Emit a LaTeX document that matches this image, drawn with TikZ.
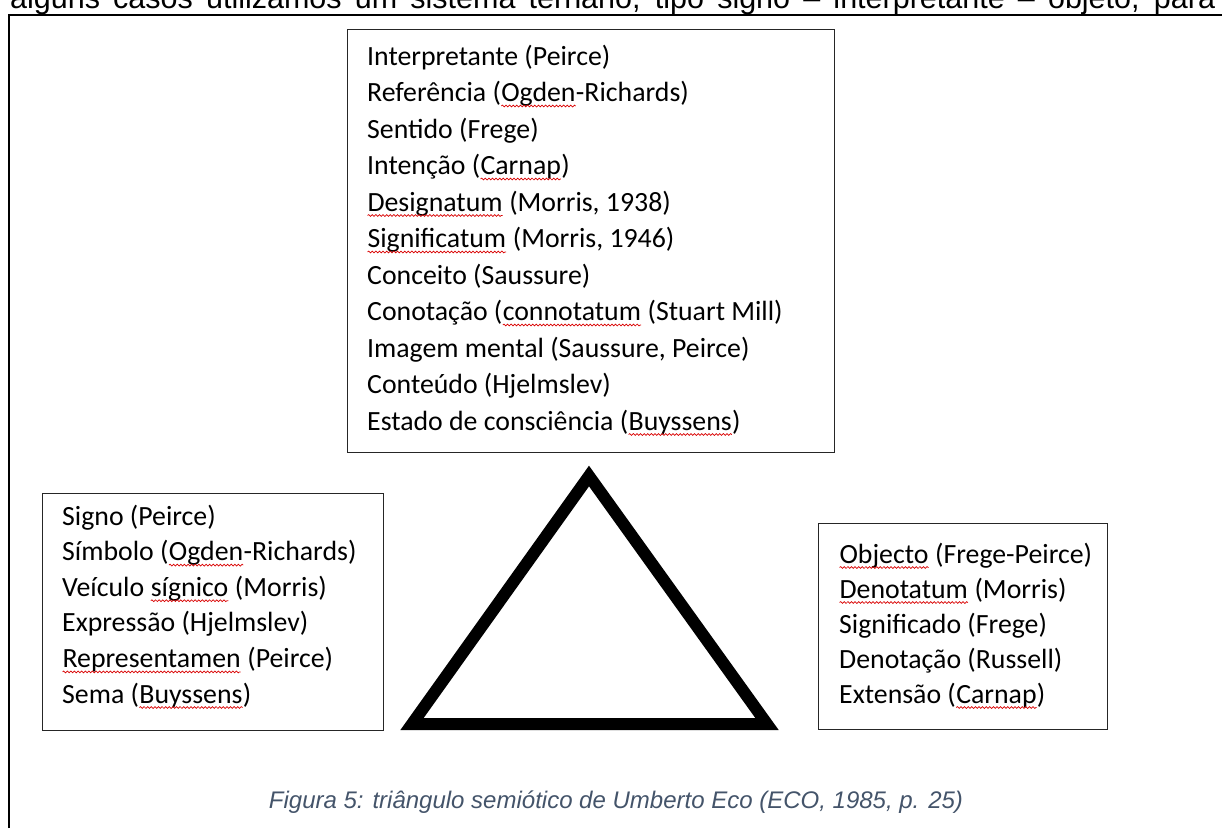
\documentclass[tikz,border=0pt]{standalone}
\usepackage{fontspec}
\setmainfont{Carlito}
\newfontfamily\arialfont{Liberation Sans}
\usetikzlibrary{decorations.pathmorphing}
\definecolor{capcol}{HTML}{44546A}
\tikzset{
  framebox/.style={draw=black!85, line width=1.3pt, inner sep=0pt, anchor=north west},
  tri/.style={draw=black, line width=12pt, line join=miter},
  outerframe/.style={draw=black, line width=2pt},
  boxtext/.style={font=\fontsize{27.8}{33}\selectfont, anchor=base west, inner sep=0pt},
  wavyline/.style={red!85!black, line width=0.7pt, decorate, decoration={snake, amplitude=0.9pt, segment length=3.6pt}},
}
\newcommand\wv[1]{\tikz[baseline=(wvn.base)]{\node[inner sep=0pt, outer sep=0pt] (wvn) {#1};\draw[wavyline] ([yshift=-4.5pt]wvn.base west) -- ([yshift=-4.5pt]wvn.base east);}}
\begin{document}
\begin{tikzpicture}[x=1pt, y=-1pt]
\useasboundingbox (0,0) rectangle (1222,828);
% cut-off text line at the top
\begin{scope}
\clip (0,0) rectangle (1222,13);
\node[anchor=base west, inner sep=0pt, font=\arialfont\fontsize{30.5}{32}\selectfont] (toptext) at (10,8)
  {\makebox[1205pt][s]{alguns casos utilizamos um sistema ternário, tipo signo – interpretante – objeto, para}};
\end{scope}
% outer frame
\coordinate (fbl) at (9,828);
\coordinate (ftl) at (9,15);
\coordinate (ftr) at (1222,15);
\draw[outerframe] (fbl) -- (ftl) -- (ftr);
% boxes
\node[framebox, minimum width=487pt, minimum height=423pt] (topbox) at (347,29) {};
\node[framebox, minimum width=341pt, minimum height=237pt] (leftbox) at (42,493) {};
\node[framebox, minimum width=289pt, minimum height=206pt] (rightbox) at (818,523) {};
% top box text
\foreach \t [count=\i from 0] in {
  {Interpretante (Peirce)},
  {Referência (\wv{Ogden}-Richards)},
  {Sentido (Frege)},
  {Intenção (\wv{Carnap})},
  {\wv{Designatum} (Morris, 1938)},
  {\wv{Significatum} (Morris, 1946)},
  {Conceito (Saussure)},
  {Conotação (\wv{connotatum} (Stuart Mill)},
  {Imagem mental (Saussure, Peirce)},
  {Conteúdo (Hjelmslev)},
  {Estado de consciência (\wv{Buyssens})}}
  \node[boxtext] (top\i) at (367,65+36.5*\i) {\t};
% left box text
\foreach \t [count=\i from 0] in {
  {Signo (Peirce)},
  {Símbolo (\wv{Ogden}-Richards)},
  {Veículo \wv{sígnico} (Morris)},
  {Expressão (Hjelmslev)},
  {\wv{Representamen} (Peirce)},
  {Sema (\wv{Buyssens})}}
  \node[boxtext] (left\i) at (62,525+35.6*\i) {\t};
% right box text
\foreach \t [count=\i from 0] in {
  {\wv{Objecto} (Frege-Peirce)},
  {\wv{Denotatum} (Morris)},
  {Significado (Frege)},
  {Denotação (Russell)},
  {Extensão (\wv{Carnap})}}
  \node[boxtext] (right\i) at (839,563+35*\i) {\t};
% triangle
\coordinate (ta) at (589,476);
\coordinate (tl) at (412,724);
\coordinate (tr) at (767,724);
\draw[tri] (tl) -- (ta) -- (tr) -- cycle;
% caption
\node[anchor=base, inner sep=0pt, text=capcol, font=\arialfont\itshape\fontsize{24}{27}\selectfont] (caption) at (616,808)
  {Figura 5: triângulo semiótico de Umberto Eco (ECO, 1985, p. 25)};
\end{tikzpicture}
\end{document}
